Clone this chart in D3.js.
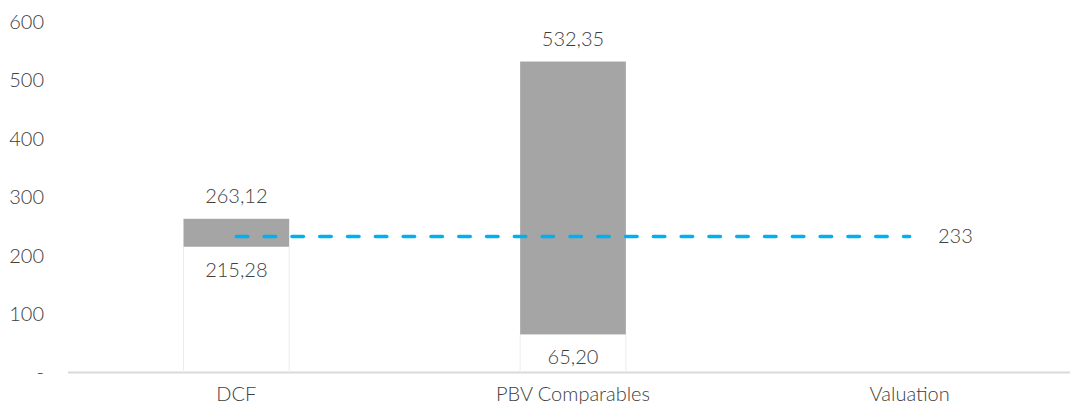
<!DOCTYPE html>
<html><head><meta charset="utf-8">
<script src="https://cdn.jsdelivr.net/npm/d3@7"></script>
<style>body{margin:0;background:#fff}svg{display:block}</style>
</head><body>
<svg id="c" width="1070" height="408"></svg>
<script>
const categories = ["DCF", "PBV Comparables", "Valuation"];
const lowValues = [215.28, 65.20, null];
const highValues = [263.12, 532.35, null];
const lowLabels = ["215,28", "65,20", null];
const highLabels = ["263,12", "532,35", null];
const valuation = 233;
const valuationLabel = "233";
const yTicks = [0, 100, 200, 300, 400, 500, 600];
const yTickLabels = ["-", "100", "200", "300", "400", "500", "600"];

const svg = d3.select("#c");
const font = "Lato, 'Noto Sans', sans-serif";
const fw = 300;
const fs = 20;
const x = d3.scaleBand().domain(categories).range([68, 1078]).paddingInner(0.686).paddingOuter(0.343);
const y = d3.scaleLinear().domain([0, 600]).range([372.5, 22]);
const txt = "#404040";

function styleText(sel) {
  sel.attr("font-family", font).attr("font-size", fs).attr("font-weight", fw).attr("fill", txt);
}

// y axis labels
const yAxis = d3.axisLeft(y).tickValues(yTicks).tickSize(0).tickPadding(0)
  .tickFormat((d, i) => yTickLabels[i]);
const gy = svg.append("g").attr("transform", "translate(44,0)").call(yAxis);
gy.select(".domain").remove();
gy.selectAll("text").call(styleText);

// x axis
const xAxis = d3.axisBottom(x).tickSize(0).tickPadding(14);
const gx = svg.append("g").attr("transform", `translate(0,${y(0)})`).call(xAxis);
gx.select(".domain").attr("stroke", "#d9d9d9").attr("stroke-width", 2).attr("d", "M68,0H1070");
gx.selectAll("text").call(styleText);

const data = categories.map((c, i) => ({c, lo: lowValues[i], hi: highValues[i], ll: lowLabels[i], hl: highLabels[i]})).filter(d => d.lo != null);

// invisible base bars with faint edges
data.forEach(d => {
  [x(d.c), x(d.c) + x.bandwidth()].forEach(px => {
    svg.append("line").attr("x1", px).attr("x2", px).attr("y1", y(d.lo)).attr("y2", y(0))
      .attr("stroke", "#ececec").attr("stroke-width", 1);
  });
});

// range bars
svg.selectAll("rect.r").data(data).join("rect").attr("class", "r")
  .attr("x", d => x(d.c)).attr("width", x.bandwidth())
  .attr("y", d => y(d.hi)).attr("height", d => y(d.lo) - y(d.hi))
  .attr("fill", "#a5a5a5");

// dashed valuation line
const cx = c => x(c) + x.bandwidth() / 2;
svg.append("line")
  .attr("x1", cx(categories[0])).attr("x2", cx(categories[2]))
  .attr("y1", y(valuation)).attr("y2", y(valuation))
  .attr("stroke", "#00b0f0").attr("stroke-width", 3.5)
  .attr("stroke-linecap", "round").attr("stroke-dasharray", "11.5,16.3");

svg.append("text").attr("x", 938).attr("y", y(valuation)).attr("dy", "0.35em")
  .call(styleText).text(valuationLabel);

// labels
svg.selectAll("text.hl").data(data).join("text").attr("class", "hl")
  .attr("x", d => cx(d.c)).attr("y", d => y(d.hi) - 23).attr("dy", "0.35em")
  .attr("text-anchor", "middle").call(styleText)
  .text(d => d.hl);
svg.selectAll("text.ll").data(data).join("text").attr("class", "ll")
  .attr("x", d => cx(d.c)).attr("y", d => y(d.lo) + 23).attr("dy", "0.35em")
  .attr("text-anchor", "middle").call(styleText)
  .text(d => d.ll);
</script>
</body></html>
